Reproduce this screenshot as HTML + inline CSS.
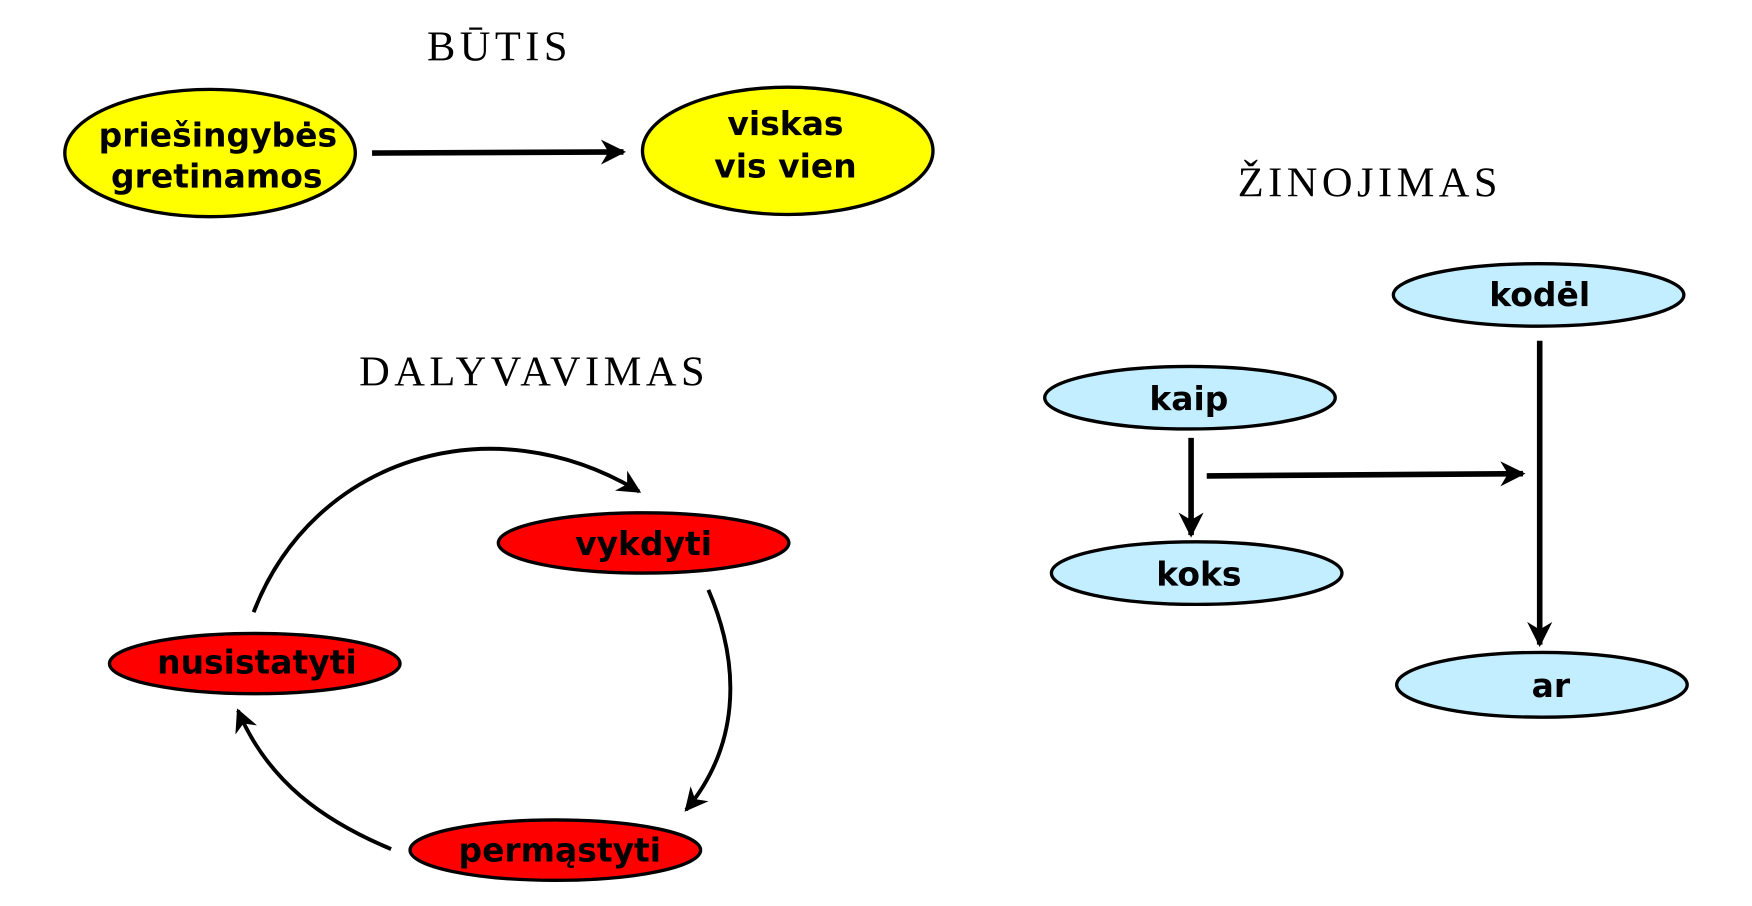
<!DOCTYPE html>
<html><head><meta charset="utf-8"><style>
html,body{margin:0;padding:0;background:#fff;}
svg{display:block;}
.t{font-family:"DejaVu Sans","Liberation Sans",sans-serif;font-weight:bold;font-size:29.5px;text-anchor:middle;fill:#000;}
.h{font-family:"Liberation Serif",serif;font-size:38px;text-anchor:middle;fill:#000;letter-spacing:4px;}
</style></head><body>
<svg width="1752" height="906" viewBox="0 0 1568 811" preserveAspectRatio="none" xmlns="http://www.w3.org/2000/svg">
<defs>
<marker id="a" viewBox="0 0 10 10" refX="9" refY="5" markerWidth="6" markerHeight="6" orient="auto" markerUnits="strokeWidth">
<path d="M0,0 L10,5 L0,10 L3,5 z" fill="#000"/></marker>
<marker id="b" viewBox="0 0 10 10" refX="9" refY="5" markerWidth="4.5" markerHeight="4.5" orient="auto" markerUnits="strokeWidth">
<path d="M0,0 L10,5 L0,10 L3,5 z" fill="#000"/></marker>
</defs>
<text class="h" x="447" y="54">BŪTIS</text>
<text class="h" x="1226" y="176">ŽINOJIMAS</text>
<text class="h" x="478" y="345">DALYVAVIMAS</text>

<ellipse cx="188" cy="137" rx="130" ry="57" fill="#ffff00" stroke="#000" stroke-width="3"/>
<text class="t" x="195" y="131">priešingybės</text>
<text class="t" x="194" y="168">gretinamos</text>
<ellipse cx="705" cy="135" rx="130" ry="57" fill="#ffff00" stroke="#000" stroke-width="3"/>
<text class="t" x="703" y="121">viskas</text>
<text class="t" x="703" y="159">vis vien</text>
<line x1="333" y1="137" x2="558" y2="136" stroke="#000" stroke-width="5" marker-end="url(#b)"/>

<ellipse cx="1377" cy="264" rx="130" ry="28" fill="#c2eeff" stroke="#000" stroke-width="3"/>
<text class="t" x="1378" y="274">kodėl</text>
<ellipse cx="1065" cy="356" rx="130" ry="28" fill="#c2eeff" stroke="#000" stroke-width="3"/>
<text class="t" x="1064" y="367">kaip</text>
<ellipse cx="1071" cy="513" rx="130" ry="28" fill="#c2eeff" stroke="#000" stroke-width="3"/>
<text class="t" x="1073" y="524">koks</text>
<ellipse cx="1380" cy="613" rx="130" ry="29" fill="#c2eeff" stroke="#000" stroke-width="3"/>
<text class="t" x="1388" y="624">ar</text>
<line x1="1378" y1="305" x2="1378" y2="577" stroke="#000" stroke-width="5" marker-end="url(#b)"/>
<line x1="1066" y1="392" x2="1066" y2="479" stroke="#000" stroke-width="5" marker-end="url(#b)"/>
<line x1="1080" y1="426" x2="1363" y2="424" stroke="#000" stroke-width="5" marker-end="url(#b)"/>

<ellipse cx="576" cy="486" rx="130" ry="27" fill="#ff0000" stroke="#000" stroke-width="3"/>
<text class="t" x="576" y="497">vykdyti</text>
<ellipse cx="228" cy="594" rx="130" ry="27" fill="#ff0000" stroke="#000" stroke-width="3"/>
<text class="t" x="230" y="603">nusistatyti</text>
<ellipse cx="497" cy="761" rx="130" ry="27" fill="#ff0000" stroke="#000" stroke-width="3"/>
<text class="t" x="501" y="771">permąstyti</text>
<path d="M227,548 C280,410 440,360 572,440" fill="none" stroke="#000" stroke-width="3.5" marker-end="url(#a)"/>
<path d="M634,528 C665,600 660,670 614,725" fill="none" stroke="#000" stroke-width="3.5" marker-end="url(#a)"/>
<path d="M350,760 C290,735 240,700 213,636" fill="none" stroke="#000" stroke-width="3.5" marker-end="url(#a)"/>
</svg>
</body></html>
